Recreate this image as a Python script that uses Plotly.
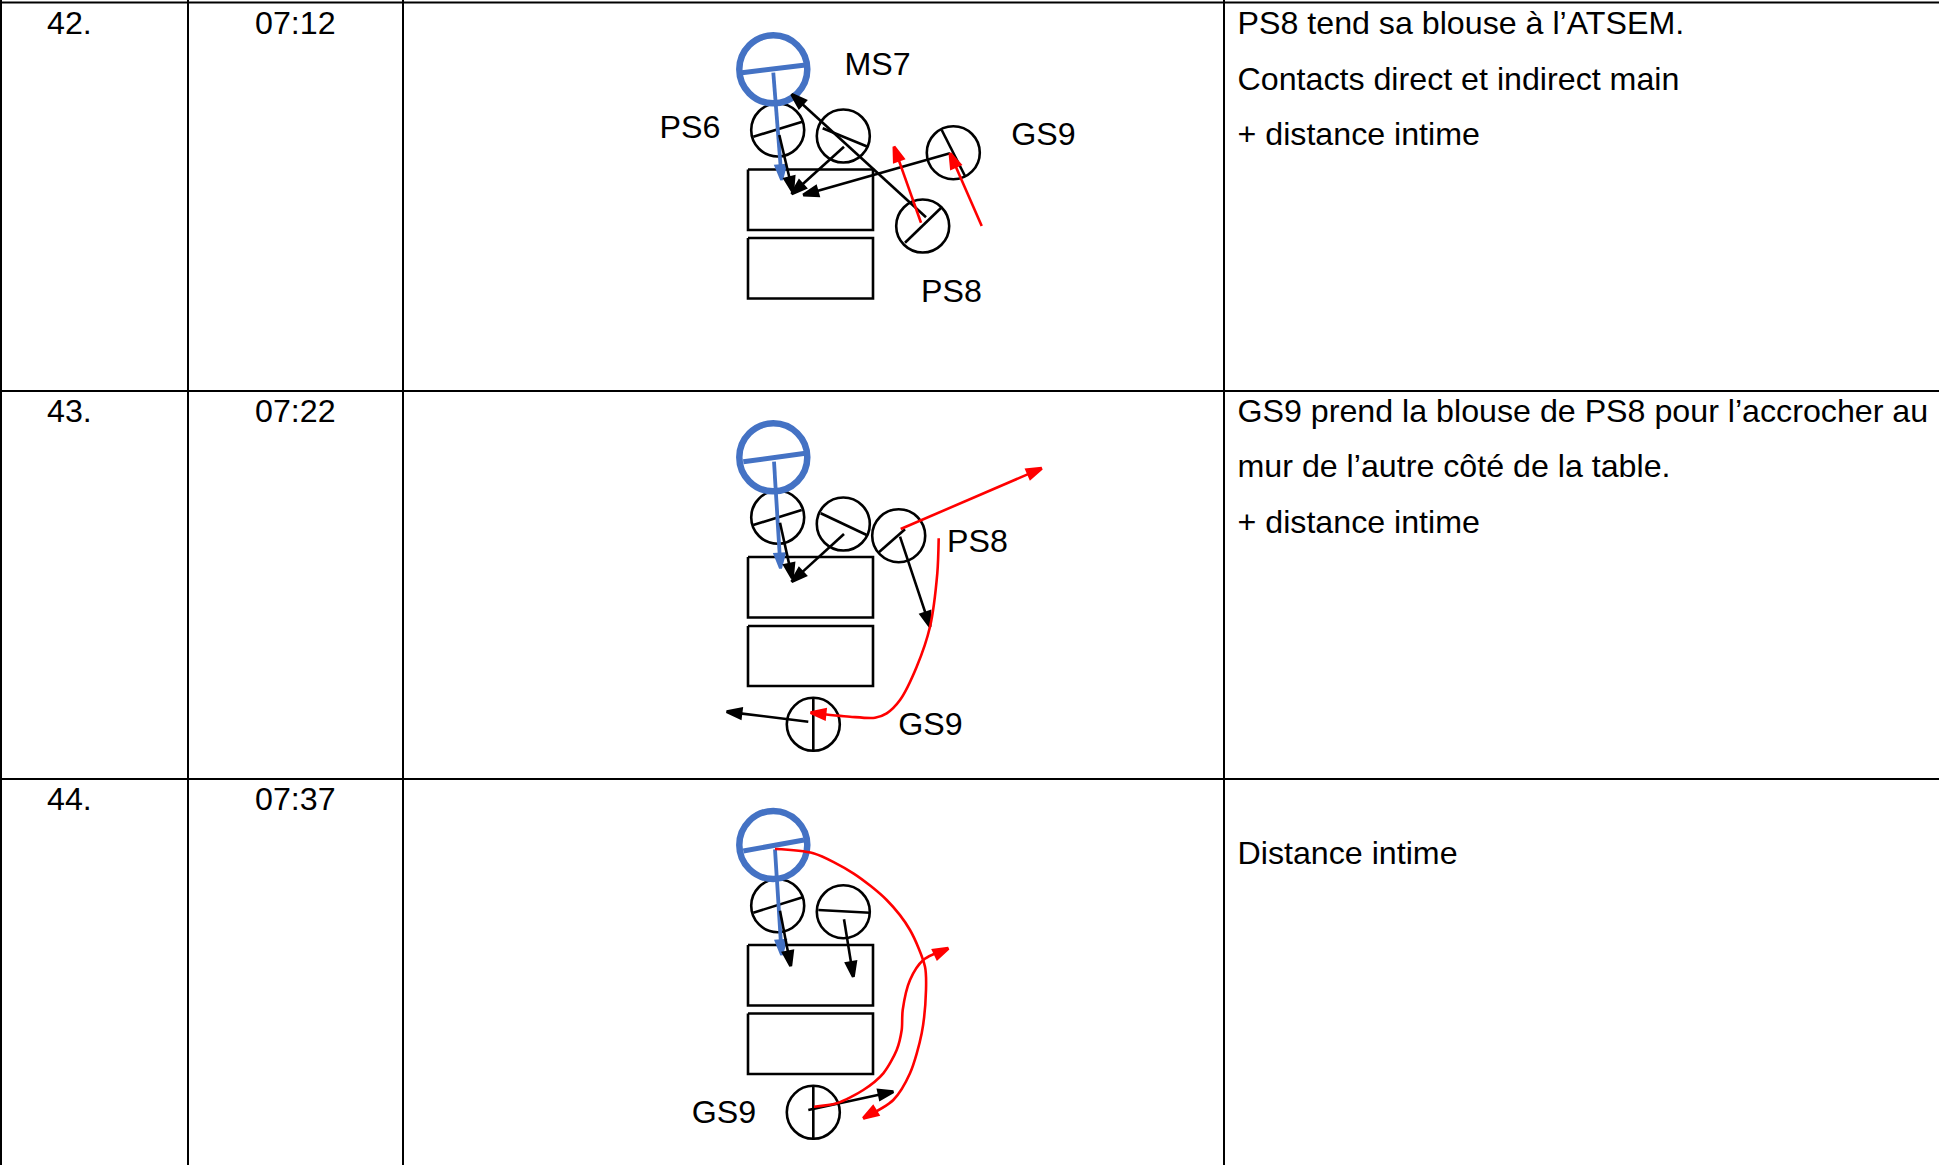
import plotly.graph_objects as go

W, H = 1939, 1165
BLACK, RED, BLUE = "#000000", "#ff0000", "#4472c4"
FONT = "Liberation Sans, Arial, sans-serif"

# Table grid
GRID_X = [1, 188, 403, 1224]
GRID_Y = [2.5, 391, 779]

# Table text
NUMBERS = ["42.", "43.", "44."]
TIMES = ["07:12", "07:22", "07:37"]
NOTE_TEXT = [
    "PS8 tend sa blouse à l’ATSEM.", "Contacts direct et indirect main", "+ distance intime",
    "GS9 prend la blouse de PS8 pour l’accrocher au", "mur de l’autre côté de la table.", "+ distance intime",
    "Distance intime",
]
NOTE_Y = [26, 81.5, 137, 413.5, 468.5, 524.5, 856]
ROW_TEXT_Y = [26, 413.5, 801.5]

# Diagram labels
LABELS = ["MS7", "PS6", "GS9", "PS8", "PS8", "GS9", "GS9"]
LABEL_X = [877.5, 690, 1043.5, 951.5, 977.5, 930.5, 724]
LABEL_Y = [66.5, 130, 137, 293.5, 543.5, 726.5, 1114.5]

# Tables in the diagrams: x0, x1, y0, y1
DESKS = [
    (748, 873, 169.5, 230), (748, 873, 238, 298.5),
    (748, 873, 557, 617.5), (748, 873, 626, 686),
    (748, 873, 945, 1005.5), (748, 873, 1013.5, 1074),
]

# People: small black circles
PEOPLE_X = [777.7, 843.3, 953.3, 922.7, 777.7, 843.3, 898.7, 813.3, 777.7, 843.3, 813.3]
PEOPLE_Y = [130, 136, 152.7, 226, 517.3, 524, 535.7, 724.3, 905.7, 911.7, 1112.3]
# Adult: blue circles
ADULT_X = [773.3, 773.3, 773.3]
ADULT_Y = [69.3, 457.3, 845]

# Plain strokes across each person
BODY_LINES = [
    [(753.3, 136.7), (802.3, 121.7)], [(822.7, 128.3), (867.7, 146.7)],
    [(941.7, 130), (965, 176)], [(905, 242.7), (941.7, 207.3)],
    [(753.3, 525), (801.7, 510)], [(820.7, 513.3), (866.7, 535)],
    [(878.3, 552.7), (905, 529.3)], [(813.3, 698.3), (813.3, 751.7)],
    [(753.3, 912.7), (802.7, 897.3)], [(818.3, 910), (870, 912.7)],
    [(813.3, 1085), (813.3, 1140)],
]
ADULT_BARS = [
    [(742, 72.7), (805.5, 65)],
    [(743.3, 461.7), (805.5, 453.3)],
    [(743.3, 851), (804, 840)],
]
ADULT_GAZE = [
    [(773.3, 72.7), (781.7, 180)],
    [(774, 461.7), (780.5, 568.3)],
    [(775, 849.3), (781.7, 955)],
]
BLACK_ARROWS = [
    [(779.3, 135), (792.7, 191.7)], [(844, 146.7), (791.7, 194)],
    [(950, 153.3), (803.3, 195)], [(926, 217.3), (791.7, 94.3)],
    [(780, 522.7), (792.3, 578.3)], [(844, 534), (791.7, 581.7)],
    [(900, 536.7), (930, 626.7)], [(808.3, 721.7), (726.7, 711.7)],
    [(780, 910.7), (790.7, 966)], [(844, 919.3), (853.3, 976.7)],
    [(808.3, 1110), (893.3, 1091.7)],
]
RED_ARROWS = [
    [(921, 222.7), (894, 146.7)], [(981.7, 226), (950, 153.3)],
    [(900.7, 529), (1041.7, 468.3)],
]
RED_CURVES = [
    [(938.7, 538.3), (937.3, 573.3), (930, 626.7), (916.7, 666.7), (900, 700),
     (886.7, 713.3), (875, 717.7), (850, 716.7), (810.7, 712.7)],
    [(775, 849), (813.3, 853.3), (853.3, 873.3), (886.7, 900), (910, 930), (925, 966.7),
     (926, 990), (921.7, 1033.3), (910, 1073.3), (893.3, 1100), (863.3, 1118.3)],
    [(814, 1106.7), (836.7, 1103.3), (863.3, 1090), (883.3, 1073.3), (896.7, 1050),
     (901.7, 1030), (902.7, 1010), (910, 980), (923.3, 960), (948.3, 948.3)],
]

fig = go.Figure()


def stroke(pts, color, width, head=0, spline=False):
    xs, ys = zip(*pts)
    n = len(pts)
    fig.add_trace(go.Scatter(
        x=xs, y=ys, mode="lines+markers" if head else "lines",
        line=dict(color=color, width=width, shape="spline" if spline else "linear", smoothing=0.8),
        marker=dict(
            symbol="arrow", angleref="previous", color=color,
            size=[0] * (n - 1) + [head], opacity=[0] * (n - 1) + [1],
            line=dict(width=3, color=color),
        ) if head else None,
        hoverinfo="skip", showlegend=False,
    ))


def texts(xs, ys, labels, position, size):
    fig.add_trace(go.Scatter(
        x=xs, y=ys, text=labels, mode="text", textposition=position,
        textfont=dict(family=FONT, size=size, color="#000000"),
        hoverinfo="skip", showlegend=False,
    ))


# grid
for y in GRID_Y:
    stroke([(0, y), (W, y)], BLACK, 2)
for x in GRID_X:
    stroke([(x, 0), (x, H)], BLACK, 2)

# desks
for x0, x1, y0, y1 in DESKS:
    stroke([(x0, y0), (x1, y0), (x1, y1), (x0, y1), (x0, y0)], BLACK, 2.6)

# people
fig.add_trace(go.Scatter(
    x=PEOPLE_X, y=PEOPLE_Y, mode="markers",
    marker=dict(symbol="circle-open", size=53, line=dict(color=BLACK, width=2.6), color=BLACK),
    hoverinfo="skip", showlegend=False,
))
for pts in BODY_LINES:
    stroke(pts, BLACK, 2.6)

# adult
fig.add_trace(go.Scatter(
    x=ADULT_X, y=ADULT_Y, mode="markers",
    marker=dict(symbol="circle-open", size=68, line=dict(color=BLUE, width=6.5), color=BLUE),
    hoverinfo="skip", showlegend=False,
))
for pts in ADULT_BARS:
    stroke(pts, BLUE, 5)
for pts in ADULT_GAZE:
    stroke(pts, BLUE, 3.8, head=15)

# arrows
for pts in BLACK_ARROWS:
    stroke(pts, BLACK, 2.6, head=15)
for pts in RED_CURVES:
    stroke(pts, RED, 2.6, head=15, spline=True)
for pts in RED_ARROWS:
    stroke(pts, RED, 2.6, head=15)

# text
texts([47] * 3, ROW_TEXT_Y, NUMBERS, "middle right", 32.2)
texts([255] * 3, ROW_TEXT_Y, TIMES, "middle right", 32.2)
texts([1237.5] * len(NOTE_Y), NOTE_Y, NOTE_TEXT, "middle right", 32.2)
texts(LABEL_X, LABEL_Y, LABELS, "middle center", 32.2)

fig.update_layout(
    width=W, height=H, margin=dict(l=0, r=0, t=0, b=0),
    paper_bgcolor="white", plot_bgcolor="white", showlegend=False,
    xaxis=dict(range=[0, W], visible=False, fixedrange=True),
    yaxis=dict(range=[H, 0], visible=False, fixedrange=True),
)
fig.write_html(
    "out.html",
    config=dict(displayModeBar=False),
    post_script="document.body.style.margin='0';document.documentElement.style.overflow='hidden';",
)
